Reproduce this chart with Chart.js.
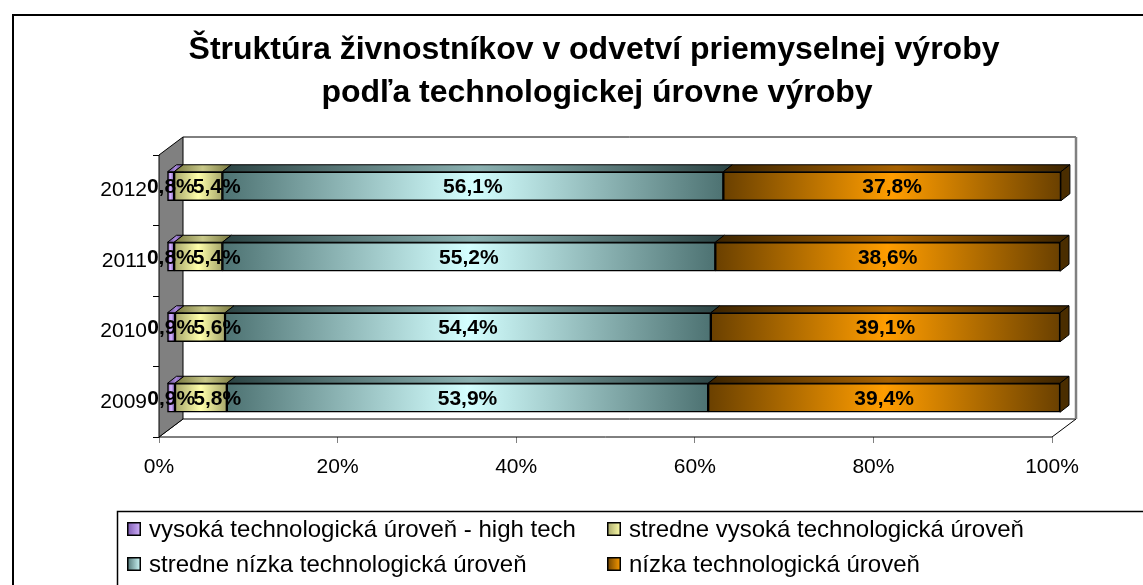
<!DOCTYPE html>
<html>
<head>
<meta charset="utf-8">
<script src="https://cdn.jsdelivr.net/npm/chart.js@4.4.0/dist/chart.umd.min.js"></script>
<style>body{margin:0;background:#fff}</style>
</head>
<body>
<canvas id="myChart" width="1143" height="585"></canvas>
<script>
Chart.defaults.font.family = '"Liberation Sans", Arial, sans-serif';
Chart.defaults.color = '#000';

var ctx = document.getElementById('myChart').getContext('2d');

var years = ['2012', '2011', '2010', '2009'];
var highTech = [0.8, 0.8, 0.9, 0.9];
var midHighTech = [5.4, 5.4, 5.6, 5.8];
var midLowTech = [56.1, 55.2, 54.4, 53.9];
var lowTech = [37.8, 38.6, 39.1, 39.4];
var seriesNames = ['vysoká technologická úroveň - high tech', 'stredne vysoká technologická úroveň',
                   'stredne nízka technologická úroveň', 'nízka technologická úroveň'];
var xTicks = [0, 20, 40, 60, 80, 100];
var titleLines = ['Štruktúra živnostníkov v odvetví priemyselnej výroby', 'podľa technologickej úrovne výroby'];

var series = [highTech, midHighTech, midLowTech, lowTech];

// edge / centre colours of the excel style gradients, front and top face
var shades = [
  { edge: '#7a58ad', mid: '#d4b4ff', top: '#5e4288', topMid: '#a888d8' },
  { edge: '#a6a66a', mid: '#ffffaa', top: '#77773f', topMid: '#c8c888' },
  { edge: '#4d7272', mid: '#d4ffff', top: '#2c4444', topMid: '#8ab0b0' },
  { edge: '#6a4000', mid: '#ff9d00', top: '#3c2400', topMid: '#a86200' }
];

var DEPTH_X = 9, DEPTH_Y = 7;    // top face of a bar
var SHIFT_X = 8, SHIFT_Y = -4;   // bars sit inside the 3d box
var WALL_X = 24, WALL_Y = 18;    // depth of walls / floor

function hGrad(c, x0, x1, a, b) {
  var g = c.createLinearGradient(x0, 0, x1, 0);
  g.addColorStop(0, a);
  g.addColorStop(0.5, b);
  g.addColorStop(1, a);
  return g;
}

function segFill(i) {
  return function(context) {
    var chart = context.chart;
    if (!chart.chartArea || context.dataIndex === undefined) return shades[i].mid;
    var xs = chart.scales.x;
    var start = 0;
    for (var k = 0; k < i; k++) start += series[k][context.dataIndex];
    var x0 = xs.getPixelForValue(start);
    var x1 = xs.getPixelForValue(start + series[i][context.dataIndex]);
    return hGrad(chart.ctx, x0, x1, shades[i].edge, shades[i].mid);
  };
}

function fmt(v) {
  return v.toFixed(1).replace('.', ',') + '%';
}

function poly(c, pts) {
  c.beginPath();
  c.moveTo(pts[0][0], pts[0][1]);
  for (var i = 1; i < pts.length; i++) c.lineTo(pts[i][0], pts[i][1]);
  c.closePath();
}

var box3d = {
  id: 'box3d',
  beforeDraw: function(chart) {
    var c = chart.ctx;
    c.save();
    c.fillStyle = '#fff';
    c.fillRect(0, 0, chart.width, chart.height);
    c.strokeStyle = '#000';
    c.lineWidth = 2;
    c.strokeRect(13, 15, chart.width, chart.height);
    c.lineWidth = 1.5;
    c.strokeRect(117.5, 511.5, chart.width, chart.height);
    // title
    c.fillStyle = '#000';
    c.font = 'bold 32px "Liberation Sans", Arial, sans-serif';
    c.textAlign = 'center';
    c.textBaseline = 'middle';
    c.fillText(titleLines[0], 594, 50);
    c.fillText(titleLines[1], 597, 93);
    c.restore();
  },
  beforeDatasetsDraw: function(chart) {
    var a = chart.chartArea, c = chart.ctx;
    var L = a.left, R = a.right, T = a.top, B = a.bottom;
    c.save();
    c.lineWidth = 1;
    c.strokeStyle = '#000';
    c.fillStyle = '#fff';
    c.fillRect(L + WALL_X, T - WALL_Y, R - L, B - T);
    // floor
    poly(c, [[L, B], [L + WALL_X, B - WALL_Y], [R + WALL_X, B - WALL_Y], [R, B]]);
    c.fill();
    c.stroke();
    // left wall
    c.fillStyle = '#808080';
    poly(c, [[L, T], [L + WALL_X, T - WALL_Y], [L + WALL_X, B - WALL_Y], [L, B]]);
    c.fill();
    c.stroke();
    // back wall edges
    c.beginPath();
    c.moveTo(L + WALL_X, T - WALL_Y);
    c.lineTo(R + WALL_X, T - WALL_Y);
    c.stroke();
    c.strokeStyle = '#808080';
    c.lineWidth = 2.5;
    c.beginPath();
    c.moveTo(R + WALL_X, T - WALL_Y);
    c.lineTo(R + WALL_X, B - WALL_Y);
    c.stroke();
    c.restore();

    c.save();
    c.translate(SHIFT_X, SHIFT_Y);
  },
  afterDatasetsDraw: function(chart) {
    var c = chart.ctx;
    var datasets = chart.data.datasets;
    var last = datasets.length - 1;
    c.lineWidth = 1;
    c.strokeStyle = '#000';
    datasets.forEach(function(ds, i) {
      chart.getDatasetMeta(i).data.forEach(function(bar) {
        var p = bar.getProps(['x', 'y', 'base', 'height'], true);
        var x0 = Math.min(p.base, p.x), x1 = Math.max(p.base, p.x);
        var yt = p.y - p.height / 2, yb = p.y + p.height / 2;
        c.fillStyle = hGrad(c, x0, x1 + DEPTH_X, shades[i].top, shades[i].topMid);
        poly(c, [[x0, yt], [x0 + DEPTH_X, yt - DEPTH_Y], [x1 + DEPTH_X, yt - DEPTH_Y], [x1, yt]]);
        c.fill();
        c.stroke();
        if (i === last) {
          c.fillStyle = '#4a2d00';
          poly(c, [[x1, yt], [x1 + DEPTH_X, yt - DEPTH_Y], [x1 + DEPTH_X, yb - DEPTH_Y], [x1, yb]]);
          c.fill();
          c.stroke();
        }
      });
    });
    // value labels, small ones pushed right so they don't sit on top of each other
    c.fillStyle = '#000';
    c.font = 'bold 21px "Liberation Sans", Arial, sans-serif';
    c.textAlign = 'left';
    c.textBaseline = 'middle';
    chart.data.labels.forEach(function(lbl, j) {
      var prevEnd = -Infinity;
      datasets.forEach(function(ds, i) {
        var p = chart.getDatasetMeta(i).data[j].getProps(['x', 'y', 'base'], true);
        var txt = fmt(ds.data[j]);
        var w = c.measureText(txt).width;
        var start = Math.max((p.x + p.base) / 2 - w / 2, prevEnd - 2);
        c.fillText(txt, start, p.y + 1);
        prevEnd = start + w;
      });
    });
    c.restore();
  },
  afterDraw: function(chart) {
    // legend, two columns
    var c = chart.ctx;
    var cols = [127, 607], rows = [522, 557];
    c.save();
    c.font = '24px "Liberation Sans", Arial, sans-serif';
    c.textBaseline = 'alphabetic';
    c.textAlign = 'left';
    chart.data.datasets.forEach(function(ds, i) {
      var x = cols[i % 2], y = rows[Math.floor(i / 2)];
      var g = c.createLinearGradient(x, 0, x + 14, 0);
      g.addColorStop(0, shades[i].edge);
      g.addColorStop(1, shades[i].mid);
      c.fillStyle = g;
      c.fillRect(x, y, 14, 14);
      c.strokeStyle = '#000';
      c.lineWidth = 1.5;
      c.strokeRect(x + 0.75, y + 0.75, 12.5, 12.5);
      c.fillStyle = '#000';
      c.fillText(ds.label, x + 22, y + 15);
    });
    c.restore();
  }
};

var chart = new Chart(ctx, {
  type: 'bar',
  data: {
    labels: years,
    datasets: series.map(function(vals, i) {
      return {
        label: seriesNames[i],
        data: vals,
        backgroundColor: segFill(i),
        borderColor: '#000',
        borderWidth: 1.5,
        borderSkipped: false,
        barThickness: 29,
        clip: false
      };
    })
  },
  options: {
    indexAxis: 'y',
    responsive: false,
    animation: false,
    layout: { padding: { left: 90, right: 91, top: 155, bottom: 98 } },
    plugins: {
      legend: { display: false },
      tooltip: { enabled: false },
      title: { display: false }
    },
    scales: {
      x: {
        stacked: true,
        min: 0,
        max: 100,
        afterBuildTicks: function(s) { s.ticks = xTicks.map(function(v) { return { value: v }; }); },
        afterFit: function(s) { s.height = 50; },
        ticks: { callback: function(v) { return v + '%'; }, font: { size: 21 }, padding: 12, maxRotation: 0 },
        grid: { drawOnChartArea: false, tickLength: 6, color: '#808080' },
        border: { display: false }
      },
      y: {
        stacked: true,
        afterFit: function(s) { s.width = 69; },
        ticks: { font: { size: 21 }, padding: 6 },
        grid: { drawOnChartArea: false, tickLength: 6, color: '#000', offset: true },
        border: { display: false }
      }
    }
  },
  plugins: [box3d]
});
</script>
</body>
</html>
